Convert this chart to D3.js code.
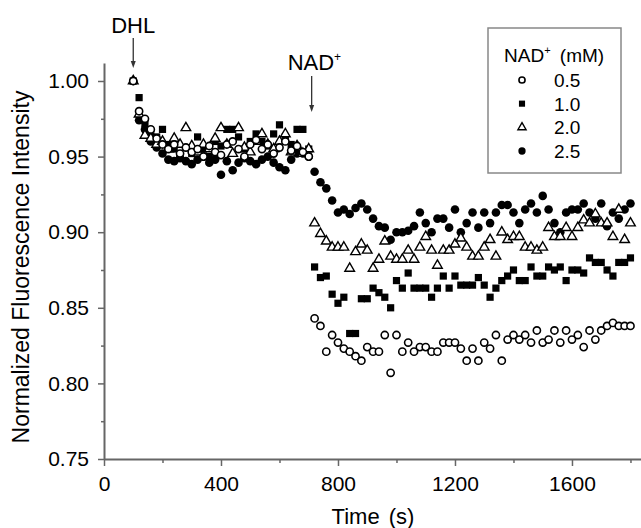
<!DOCTYPE html>
<html>
<head>
<meta charset="utf-8">
<script src="https://cdn.jsdelivr.net/npm/d3@7"></script>
<style>
  body { margin: 0; background: #fff; }
  text { font-family: "Liberation Sans", Arial, sans-serif; fill: #000; }
</style>
</head>
<body>
<div id="chart"></div>
<script>
// time points (s)
var times = [100,120,140,160,180,200,220,240,260,280,300,320,340,360,380,400,420,440,460,480,
    500,520,540,560,580,600,620,640,660,680,700,720,740,760,780,800,820,840,860,880,
    900,920,940,960,980,1000,1020,1040,1060,1080,1100,1120,1140,1160,1180,1200,1220,1240,1260,1280,
    1300,1320,1340,1360,1380,1400,1420,1440,1460,1480,1500,1520,1540,1560,1580,1600,1620,1640,1660,1680,
    1700,1720,1740,1760,1780,1800];

// normalized intensity, one array per NAD+ concentration
var nad05 = [1.000,0.980,0.975,0.968,0.962,0.958,0.955,0.958,0.952,0.956,0.953,0.955,0.950,0.957,0.953,0.951,
    0.958,0.960,0.955,0.950,0.958,0.961,0.955,0.958,0.952,0.956,0.960,0.954,0.957,0.953,0.950,
    0.843,0.838,0.821,0.832,0.827,0.823,0.821,0.818,0.815,0.824,0.821,0.821,0.832,0.807,0.832,0.821,
    0.827,0.821,0.824,0.824,0.821,0.821,0.827,0.827,0.827,0.823,0.815,0.823,0.815,0.827,0.823,0.832,
    0.815,0.829,0.832,0.829,0.832,0.827,0.835,0.827,0.829,0.835,0.827,0.835,0.829,0.832,0.824,0.835,
    0.829,0.835,0.838,0.840,0.838,0.838,0.838];
var nad10 = [1.000,0.989,0.972,0.965,0.963,0.968,0.958,0.955,0.950,0.956,0.952,0.963,0.955,0.950,0.960,0.957,
    0.968,0.968,0.963,0.955,0.960,0.965,0.960,0.957,0.965,0.971,0.963,0.958,0.968,0.968,0.955,
    0.877,0.870,0.871,0.859,0.853,0.857,0.833,0.833,0.856,0.856,0.863,0.860,0.857,0.850,0.868,0.863,
    0.873,0.863,0.863,0.863,0.857,0.863,0.871,0.863,0.871,0.865,0.865,0.865,0.870,0.865,0.857,0.863,
    0.868,0.871,0.875,0.868,0.868,0.877,0.871,0.871,0.877,0.875,0.877,0.868,0.875,0.875,0.873,0.883,
    0.880,0.880,0.875,0.871,0.880,0.880,0.883];
var nad20 = [1.000,0.978,0.964,0.962,0.958,0.960,0.955,0.962,0.958,0.969,0.957,0.953,0.958,0.955,0.962,0.969,
    0.958,0.952,0.969,0.956,0.953,0.960,0.965,0.958,0.955,0.960,0.965,0.953,0.957,0.952,0.955,
    0.906,0.899,0.894,0.890,0.890,0.890,0.876,0.887,0.892,0.888,0.876,0.882,0.894,0.884,0.882,0.882,
    0.888,0.882,0.890,0.897,0.888,0.878,0.888,0.888,0.892,0.896,0.890,0.884,0.884,0.890,0.895,0.884,
    0.900,0.895,0.897,0.897,0.890,0.890,0.888,0.890,0.903,0.897,0.897,0.903,0.897,0.903,0.908,0.906,
    0.912,0.906,0.906,0.897,0.915,0.895,0.906];
var nad25 = [1.000,0.974,0.968,0.960,0.956,0.952,0.948,0.947,0.949,0.947,0.945,0.948,0.950,0.946,0.948,0.938,
    0.947,0.941,0.946,0.949,0.947,0.945,0.948,0.950,0.946,0.943,0.941,0.948,0.952,0.952,0.950,
    0.940,0.933,0.929,0.921,0.913,0.915,0.912,0.916,0.919,0.915,0.909,0.904,0.903,0.895,0.900,0.900,
    0.901,0.904,0.913,0.906,0.900,0.909,0.909,0.903,0.915,0.900,0.906,0.913,0.903,0.913,0.906,0.913,
    0.918,0.918,0.913,0.906,0.915,0.919,0.913,0.924,0.915,0.906,0.900,0.913,0.915,0.915,0.919,0.913,
    0.909,0.919,0.904,0.913,0.909,0.915,0.919];

var seriesLabels = ["0.5", "1.0", "2.0", "2.5"];
var seriesShapes = ["openCircle", "square", "openTriangle", "circle"];
var seriesValues = [nad05, nad10, nad20, nad25];

var xTicks = [0, 400, 800, 1200, 1600];
var xMinorTicks = [200, 600, 1000, 1400, 1800];
var yTicks = [0.75, 0.80, 0.85, 0.90, 0.95, 1.00];
var yMinorTicks = [0.775, 0.825, 0.875, 0.925, 0.975];

// additions marked with arrows
var additions = [
    { label: "DHL", sup: "", t: 100, textY: 33, y0: 38, y1: 68 },
    { label: "NAD", sup: "+", t: 710, textY: 70, y0: 76, y1: 112 }
];

var width = 641, height = 528;
var axisColor = "#666";

var x = d3.scaleLinear().domain([0, 1836]).range([104, 641]);
var y = d3.scaleLinear().domain([0.75, 1.0119]).range([459, 63]);

var svg = d3.select("#chart").append("svg")
    .attr("width", width)
    .attr("height", height);

// axes
var xAxis = svg.append("g")
    .attr("class", "x-axis")
    .attr("transform", "translate(0," + y(0.75) + ")")
    .call(d3.axisBottom(x).tickValues(xTicks).tickFormat(d3.format("d"))
        .tickSize(7).tickPadding(10).tickSizeOuter(0));

svg.append("g")
    .attr("class", "x-minor")
    .attr("transform", "translate(0," + y(0.75) + ")")
    .call(d3.axisBottom(x).tickValues(xMinorTicks).tickSize(4).tickFormat("").tickSizeOuter(0))
    .select(".domain").remove();

var yAxis = svg.append("g")
    .attr("class", "y-axis")
    .attr("transform", "translate(" + x(0) + ",0)")
    .call(d3.axisLeft(y).tickValues(yTicks).tickFormat(d3.format(".2f"))
        .tickSize(6).tickPadding(9).tickSizeOuter(0));

svg.append("g")
    .attr("class", "y-minor")
    .attr("transform", "translate(" + x(0) + ",0)")
    .call(d3.axisLeft(y).tickValues(yMinorTicks).tickSize(3).tickFormat("").tickSizeOuter(0))
    .select(".domain").remove();

svg.selectAll(".domain")
    .attr("stroke", axisColor)
    .attr("stroke-width", 2);
svg.selectAll(".tick line")
    .attr("stroke", axisColor)
    .attr("stroke-width", 1.5);
svg.selectAll(".x-axis text, .y-axis text")
    .style("font-size", "21px")
    .attr("fill", "#000");

// axis titles
svg.append("text")
    .attr("x", 373)
    .attr("y", 524)
    .attr("text-anchor", "middle")
    .style("font-size", "22px")
    .style("word-spacing", "3px")
    .text("Time (s)");

svg.append("text")
    .attr("transform", "translate(29,267) rotate(-90)")
    .attr("text-anchor", "middle")
    .style("font-size", "23px")
    .text("Normalized Fluorescence Intensity");

// marker drawing
var triPath = d3.symbol().type(d3.symbolTriangle);

function drawMarker(sel, shape, scale) {
    if (shape === "circle") {
        sel.append("circle").attr("r", 4.3 * scale).attr("fill", "#000");
    } else if (shape === "openCircle") {
        sel.append("circle").attr("r", 3.6 * scale)
            .attr("fill", "#fff").attr("stroke", "#000").attr("stroke-width", 1.6);
    } else if (shape === "square") {
        sel.append("rect")
            .attr("x", -3.6 * scale).attr("y", -3.6 * scale)
            .attr("width", 7.2 * scale).attr("height", 7.2 * scale)
            .attr("fill", "#000");
    } else if (shape === "openTriangle") {
        sel.append("path").attr("d", triPath.size(40 * scale * scale)())
            .attr("fill", "#fff").attr("stroke", "#000").attr("stroke-width", 1.4);
    }
}

// draw order: filled first, open markers on top
var drawOrder = [3, 1, 2, 0];
drawOrder.forEach(function (s) {
    var pts = times.map(function (t, i) { return { t: t, v: seriesValues[s][i] }; });
    var g = svg.append("g").attr("class", "series-" + s);
    g.selectAll(".pt")
        .data(pts)
        .enter()
        .append("g")
            .attr("class", "pt")
            .attr("transform", d => "translate(" + x(d.t) + "," + y(d.v) + ")")
            .each(function () { drawMarker(d3.select(this), seriesShapes[s], 1); });
});

// addition arrows
additions.forEach(function (a) {
    var ax = x(a.t);
    var g = svg.append("g");
    g.append("line")
        .attr("x1", ax).attr("x2", ax)
        .attr("y1", a.y0).attr("y2", a.y1 - 4)
        .attr("stroke", "#333").attr("stroke-width", 1.3);
    g.append("path")
        .attr("d", "M" + (ax - 2.5) + "," + (a.y1 - 7) + "L" + (ax + 2.5) + "," + (a.y1 - 7) + "L" + ax + "," + a.y1 + "Z")
        .attr("fill", "#333");
    var txt = g.append("text")
        .attr("x", a.sup ? ax - 24 : ax)
        .attr("y", a.textY)
        .attr("text-anchor", a.sup ? "start" : "middle")
        .style("font-size", "22px");
    txt.append("tspan").text(a.label);
    if (a.sup) {
        txt.append("tspan").attr("dy", -9).style("font-size", "12px").text(a.sup);
    }
});

// legend
var legend = svg.append("g").attr("class", "legend");
legend.append("rect")
    .attr("x", 488).attr("y", 28)
    .attr("width", 133).attr("height", 145)
    .attr("fill", "#fff")
    .attr("stroke", "#888")
    .attr("stroke-width", 1.5);

var title = legend.append("text")
    .attr("x", 504)
    .attr("y", 62)
    .style("font-size", "19px");
title.append("tspan").text("NAD");
title.append("tspan").attr("dy", -8).style("font-size", "11px").text("+");
title.append("tspan").attr("dy", 8).style("word-spacing", "4px").text(" (mM)");

var legendY = d3.scalePoint().domain(seriesLabels).range([80, 151]);

seriesLabels.forEach(function (lab, i) {
    var item = legend.append("g")
        .attr("transform", "translate(522," + legendY(lab) + ")");
    drawMarker(item, seriesShapes[i], 0.85);
    legend.append("text")
        .attr("x", 554)
        .attr("y", legendY(lab) + 7)
        .style("font-size", "19px")
        .text(lab);
});
</script>
</body>
</html>
